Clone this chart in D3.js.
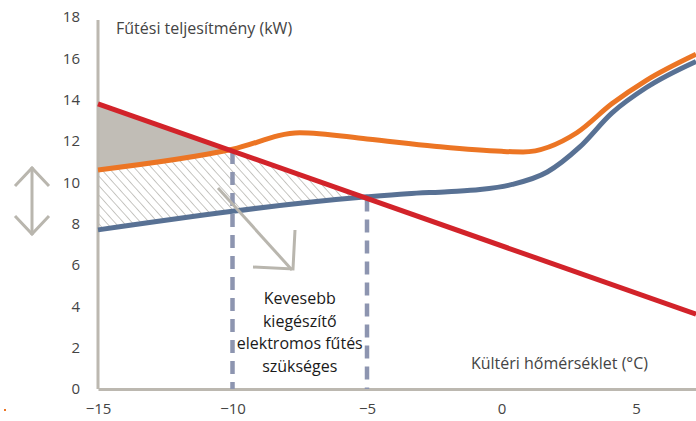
<!DOCTYPE html>
<html>
<head>
<meta charset="utf-8">
<script src="https://cdn.jsdelivr.net/npm/d3@7"></script>
<style>
  body { margin: 0; background: #fff; }
  text { font-family: "Open Sans", sans-serif; }
  .tick text { font-size: 15px; fill: #444; }
  .axisText { font-size: 16px; fill: #444; }
  .note { font-size: 16px; fill: #1a1a1a; }
</style>
</head>
<body>
<div class="chart"></div>
<script>
var svgWidth = 696;
var svgHeight = 421;

// data
var xTicks = [-15, -10, -5, 0, 5];
var yTicks = [0, 2, 4, 6, 8, 10, 12, 14, 16, 18];

var redX = [-15, 7.23];
var redY = [13.8, 3.62];

var orangeX = [-15, -10, -7.5, -5, -2.5, 0, 0.8, 2.8, 4.1, 5.4, 7.23];
var orangeY = [10.6, 11.6, 12.4, 12.1, 11.75, 11.5, 11.47, 12.4, 13.8, 14.95, 16.2];

var blueX = [-15, -5, -3.5, -2, -0.8, 0.4, 1.7, 2.9, 4.1, 5.4, 7.23];
var blueY = [7.7, 9.3, 9.45, 9.55, 9.65, 9.9, 10.5, 11.7, 13.35, 14.6, 15.85];

var dropX = [-10, -5];
var noteLines = ["Kevesebb", "kiegészítő", "elektromos fűtés", "szükséges"];

var svg = d3.select(".chart")
  .append("svg")
  .attr("width", svgWidth)
  .attr("height", svgHeight);

var x = d3.scaleLinear().domain([-15, 7.23]).range([98, 696]);
var y = d3.scaleLinear().domain([0, 18]).range([389, 17]);

// linear interpolation along a polyline
function interp(xs, ys, v) {
  for (var i = 0; i < xs.length - 1; i++) {
    if (v <= xs[i + 1]) {
      var t = (v - xs[i]) / (xs[i + 1] - xs[i]);
      return ys[i] + t * (ys[i + 1] - ys[i]);
    }
  }
  return ys[ys.length - 1];
}
function red(v) { return interp(redX, redY, v); }
function orange(v) { return interp(orangeX, orangeY, v); }
function blue(v) { return interp(blueX, blueY, v); }

// find where two curves cross
function cross(f, g, a, b) {
  for (var k = 0; k < 60; k++) {
    var m = (a + b) / 2;
    if ((f(a) - g(a)) * (f(m) - g(m)) <= 0) b = m; else a = m;
  }
  return (a + b) / 2;
}
var xRO = cross(red, orange, -15, -7.5);
var xRB = cross(red, blue, -15, 0);

var defs = svg.append("defs");
defs.append("pattern")
  .attr("id", "hatch")
  .attr("patternUnits", "userSpaceOnUse")
  .attr("width", 6.4)
  .attr("height", 6.4)
  .attr("patternTransform", "rotate(-42)")
  .append("line")
  .attr("x1", 0).attr("y1", 0).attr("x2", 0).attr("y2", 6.4)
  .attr("stroke", "#a3a19c")
  .attr("stroke-width", 1.2);

// grey triangle between red and orange
var greyPts = d3.range(0, 41).map(function(i) { return -15 + (xRO + 15) * i / 40; });
svg.append("path")
  .datum(greyPts)
  .attr("fill", "#c1bdb6")
  .attr("d", d3.area()
    .x(function(d) { return x(d); })
    .y0(function(d) { return y(orange(d)); })
    .y1(function(d) { return y(red(d)); }));

// hatched area under the lower of orange/red, above blue
var hatchPts = d3.range(0, 81).map(function(i) { return -15 + (xRB + 15) * i / 80; });
svg.append("path")
  .datum(hatchPts)
  .attr("fill", "url(#hatch)")
  .attr("d", d3.area()
    .x(function(d) { return x(d); })
    .y0(function(d) { return y(blue(d)); })
    .y1(function(d) { return y(Math.min(orange(d), red(d))); }));

// axes
var bottomAxis = d3.axisBottom(x).tickValues(xTicks).tickSize(0).tickPadding(14);
var leftAxis = d3.axisLeft(y).tickValues(yTicks).tickSize(0).tickPadding(18);

var gx = svg.append("g").attr("transform", "translate(0," + y(0) + ")").call(bottomAxis);
var gy = svg.append("g").attr("transform", "translate(" + x(-15) + ",0)").call(leftAxis);
[gx, gy].forEach(function(g) {
  g.select(".domain").attr("stroke", "#bcb8b0").attr("stroke-width", 3);
  g.selectAll(".tick text").attr("font-family", null).attr("font-size", null);
});
gy.select(".domain").attr("d", "M0," + (y(18) + 3) + "V" + y(0));

// vertical dashed drop lines
svg.selectAll(".drop")
  .data(dropX)
  .enter()
  .append("line")
  .attr("class", "drop")
  .attr("x1", function(d) { return x(d); })
  .attr("x2", function(d) { return x(d); })
  .attr("y1", function(d) { return y(Math.min(orange(d), red(d))); })
  .attr("y2", y(0))
  .attr("stroke", "#8d95b0")
  .attr("stroke-width", 4.5)
  .attr("stroke-dasharray", "13,8");

// curves
var lineGen = d3.line()
  .x(function(d) { return x(d[0]); })
  .y(function(d) { return y(d[1]); })
  .curve(d3.curveMonotoneX);

function pairs(xs, ys) { return xs.map(function(v, i) { return [v, ys[i]]; }); }

svg.append("path")
  .datum(pairs(blueX, blueY))
  .attr("fill", "none")
  .attr("stroke", "#587194")
  .attr("stroke-width", 5)
  .attr("d", lineGen);

svg.append("path")
  .datum(pairs(orangeX, orangeY))
  .attr("fill", "none")
  .attr("stroke", "#ec7524")
  .attr("stroke-width", 5)
  .attr("d", lineGen);

svg.append("path")
  .datum(pairs(redX, redY))
  .attr("fill", "none")
  .attr("stroke", "#d2232a")
  .attr("stroke-width", 5)
  .attr("d", lineGen);

// grey arrows
var arrowColor = "#b9b6ae";
var diag = svg.append("g")
  .attr("fill", "none")
  .attr("stroke", arrowColor)
  .attr("stroke-width", 3);
diag.append("path").attr("d", "M218,188L292,270");
diag.append("path").attr("d", "M295,230L293,269L253,267");

var dbl = svg.append("g")
  .attr("fill", "none")
  .attr("stroke", arrowColor)
  .attr("stroke-width", 3);
dbl.append("path").attr("d", "M32,167V235");
dbl.append("path").attr("d", "M15,186L32,168L49,186");
dbl.append("path").attr("d", "M15,216L32,234L49,216");

// titles
svg.append("text")
  .attr("class", "axisText")
  .attr("x", 116)
  .attr("y", 34)
  .text("Fűtési teljesítmény (kW)");

svg.append("text")
  .attr("class", "axisText")
  .attr("x", 648)
  .attr("y", 369)
  .attr("text-anchor", "end")
  .text("Kültéri hőmérséklet (°C)");

svg.append("text")
  .attr("class", "note")
  .attr("text-anchor", "middle")
  .selectAll("tspan")
  .data(noteLines)
  .enter()
  .append("tspan")
  .attr("x", x((dropX[0] + dropX[1]) / 2))
  .attr("y", function(d, i) { return 304 + i * 22.5; })
  .text(function(d) { return d; });

svg.append("rect")
  .attr("x", 4).attr("y", 409).attr("width", 2).attr("height", 2)
  .attr("fill", "#ec7524");
</script>
</body>
</html>
